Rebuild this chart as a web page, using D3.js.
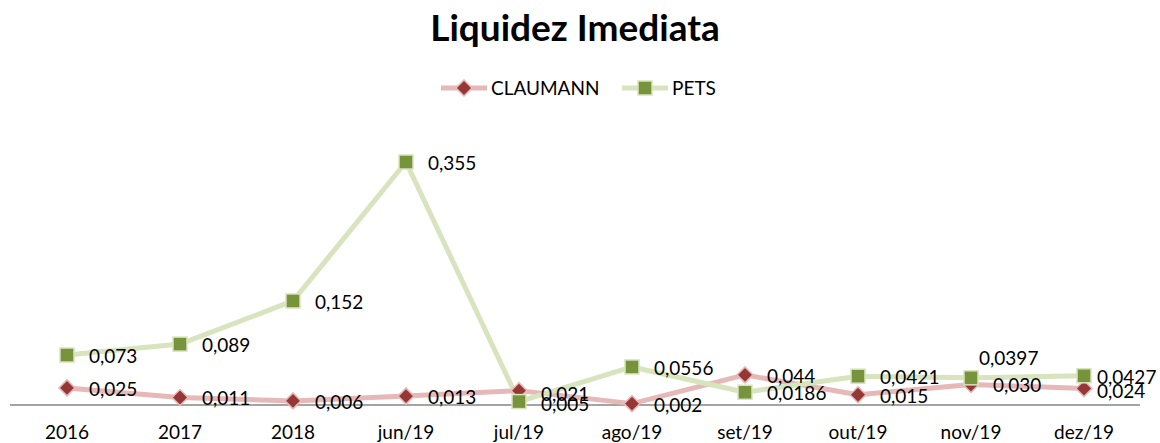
<!DOCTYPE html>
<html>
<head>
<meta charset="utf-8">
<script src="https://cdn.jsdelivr.net/npm/d3@7"></script>
<style>
body { margin: 0; background: #fff; }
svg { font-family: Lato, 'Open Sans', sans-serif; }
</style>
</head>
<body>
<svg width="1160" height="443"></svg>
<script>
var categories = ['2016', '2017', '2018', 'jun/19', 'jul/19', 'ago/19', 'set/19', 'out/19', 'nov/19', 'dez/19'];
var claumann = [0.025, 0.011, 0.006, 0.013, 0.021, 0.002, 0.044, 0.015, 0.030, 0.024];
var pets = [0.073, 0.089, 0.152, 0.355, 0.005, 0.0556, 0.0186, 0.0421, 0.0397, 0.0427];
var claumannLabels = ['0,025', '0,011', '0,006', '0,013', '0,021', '0,002', '0,044', '0,015', '0,030', '0,024'];
var petsLabels = ['0,073', '0,089', '0,152', '0,355', '0,005', '0,0556', '0,0186', '0,0421', '0,0397', '0,0427'];

var width = 1160, height = 443;
var svg = d3.select('svg');

var x = d3.scalePoint().domain(categories).range([67, 1084]);
var y = d3.scaleLinear().domain([0, 0.355]).range([405, 162]);

svg.append('text')
	.attr('x', 575).attr('y', 41)
	.attr('text-anchor', 'middle')
	.style('font-size', '37px').style('font-weight', 'bold')
	.text('Liquidez Imediata');

// axis line
svg.append('line')
	.attr('x1', 10).attr('x2', 1140)
	.attr('y1', y(0)).attr('y2', y(0))
	.attr('stroke', '#868686').attr('stroke-width', 1.5);

svg.selectAll('.xlab').data(categories).enter().append('text')
	.attr('class', 'xlab')
	.attr('x', function(d) { return x(d); })
	.attr('y', 439)
	.attr('text-anchor', 'middle')
	.style('font-size', '19px')
	.text(function(d) { return d; });

var series = [
	{name: 'CLAUMANN', values: claumann, labels: claumannLabels, line: '#E6B9B8', fill: '#953735', stroke: '#E6B9B8', shape: 'diamond'},
	{name: 'PETS', values: pets, labels: petsLabels, line: '#D7E4BD', fill: '#77933C', stroke: '#D7E4BD', shape: 'square'}
];

var line = d3.line()
	.x(function(d, i) { return x(categories[i]); })
	.y(function(d) { return y(d); });

function marker(g, s) {
	if (s.shape == 'diamond') {
		g.append('path').attr('d', 'M0,-8L8,0L0,8L-8,0Z')
			.attr('fill', s.fill).attr('stroke', s.stroke).attr('stroke-width', 1.5);
	} else {
		g.append('rect').attr('x', -7).attr('y', -7).attr('width', 14).attr('height', 14)
			.attr('fill', s.fill).attr('stroke', s.stroke).attr('stroke-width', 1.5);
	}
}

series.forEach(function(s) {
	svg.append('path').datum(s.values)
		.attr('d', line)
		.attr('fill', 'none')
		.attr('stroke', s.line)
		.attr('stroke-width', 5)
		.attr('stroke-linejoin', 'round');
});

series.forEach(function(s) {
	s.values.forEach(function(v, i) {
		var g = svg.append('g').attr('transform', 'translate(' + x(categories[i]) + ',' + y(v) + ')');
		marker(g, s);
	});
});

// data labels
series.forEach(function(s) {
	s.values.forEach(function(v, i) {
		var lx = x(categories[i]) + 22, ly = y(v) + 8;
		if (s.name == 'PETS' && categories[i] == 'nov/19') { lx = x(categories[i]) + 8; ly = y(v) - 13; }
		if (s.name == 'CLAUMANN' && categories[i] == 'jul/19') { ly = y(v) + 10; }
		if (s.name == 'PETS' && categories[i] == 'jul/19') { ly = y(v) + 9; }
		if (s.name == 'CLAUMANN' && categories[i] == 'dez/19') { lx = x(categories[i]) + 13; ly = y(v) + 9; }
		if (s.name == 'PETS' && categories[i] == 'dez/19') { lx = x(categories[i]) + 13; }
		svg.append('text')
			.attr('x', lx).attr('y', ly)
			.style('font-size', '19px')
			.text(s.labels[i]);
	});
});

// legend
var leg = [{s: series[0], x: 441}, {s: series[1], x: 622}];
leg.forEach(function(l) {
	svg.append('line').attr('x1', l.x).attr('x2', l.x + 46).attr('y1', 88).attr('y2', 88)
		.attr('stroke', l.s.line).attr('stroke-width', 5);
	var g = svg.append('g').attr('transform', 'translate(' + (l.x + 23) + ',88)');
	marker(g, l.s);
	svg.append('text').attr('x', l.x + 50).attr('y', 95)
		.style('font-size', '19px').text(l.s.name);
});
</script>
</body>
</html>
